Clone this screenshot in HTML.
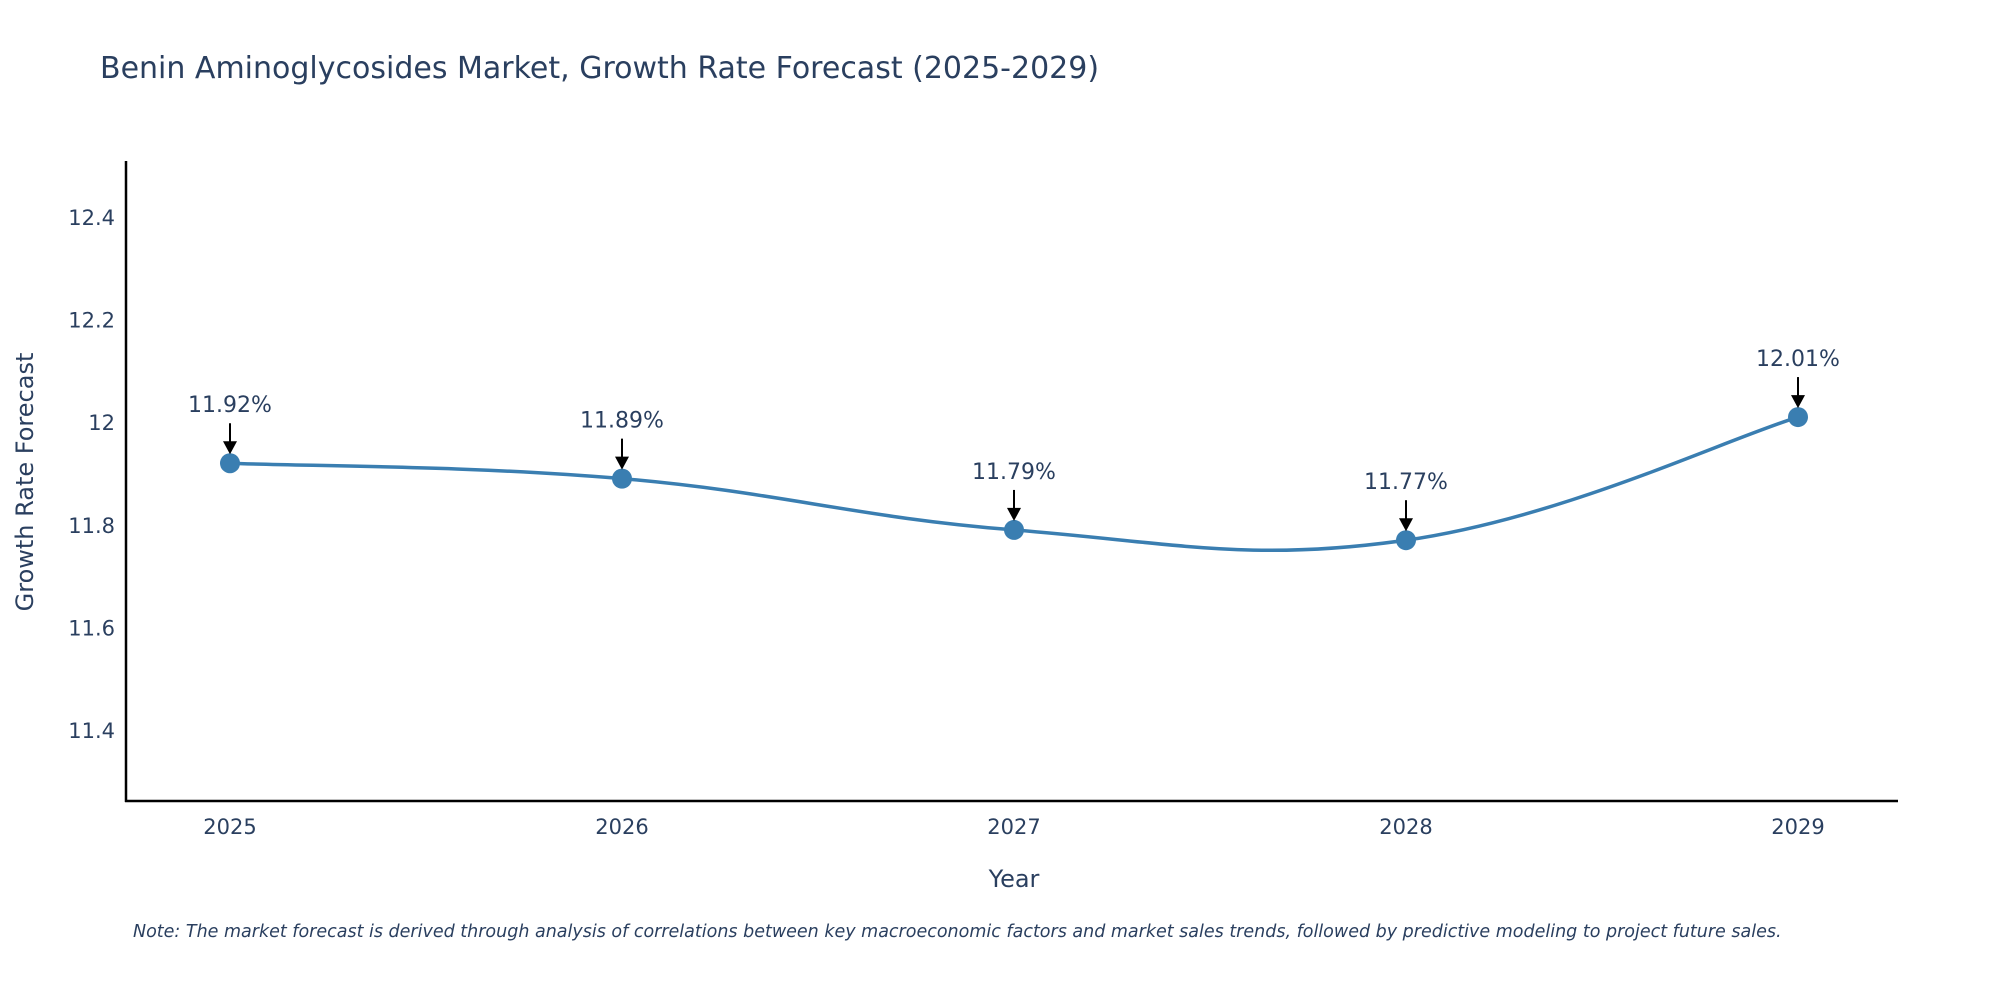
<!DOCTYPE html>
<html><head><meta charset="utf-8"><style>
body{margin:0;background:#fff;}
svg text{font-family:"DejaVu Sans","Liberation Sans",sans-serif;}
</style></head><body>
<svg id="chart" width="2000" height="1000" viewBox="0 0 2000 1000" xmlns="http://www.w3.org/2000/svg">
<rect width="2000" height="1000" fill="#fff"/>
<text x="100" y="78" font-size="30" fill="#2a3f5f">Benin Aminoglycosides Market, Growth Rate Forecast (2025-2029)</text>
<g id="yticks"></g>
<g id="xticks"></g>
<line x1="126" y1="161" x2="126" y2="802" stroke="#000" stroke-width="2.5"/>
<line x1="125" y1="801" x2="1898" y2="801" stroke="#000" stroke-width="2.5"/>
<path id="line" fill="none" stroke="#3a7eb1" stroke-width="3.5"/>
<g id="marks"></g>
<g id="annots"></g>
<text x="1014" y="887" font-size="24" fill="#2a3f5f" text-anchor="middle">Year</text>
<text x="0" y="0" font-size="24" fill="#2a3f5f" text-anchor="middle" transform="translate(33,482) rotate(-90)">Growth Rate Forecast</text>
<text x="133" y="937" font-size="17.5" font-style="italic" fill="#2a3f5f">Note: The market forecast is derived through analysis of correlations between key macroeconomic factors and market sales trends, followed by predictive modeling to project future sales.</text>
</svg>
<script>
const years = [2025, 2026, 2027, 2028, 2029];
const values = [11.92, 11.89, 11.79, 11.77, 12.01];
const labels = ["11.92%", "11.89%", "11.79%", "11.77%", "12.01%"];
const yTicks = [11.4, 11.6, 11.8, 12, 12.2, 12.4];
const yTickLabels = ["11.4", "11.6", "11.8", "12", "12.2", "12.4"];

const NS = "http://www.w3.org/2000/svg";
function xs(yr){ return 230 + (yr - 2025) * (1798 - 230) / 4; }
function ys(v){ return 217 + (12.4 - v) * 513; }
function mk(tag, attrs, parent){ const e = document.createElementNS(NS, tag); for (const k in attrs) e.setAttribute(k, attrs[k]); parent.appendChild(e); return e; }

const yg = document.getElementById('yticks');
yTicks.forEach((t, i) => {
  const e = mk('text', {x: 115, y: ys(t) + 8, 'font-size': 21, fill: '#2a3f5f', 'text-anchor': 'end'}, yg);
  
  
  e.textContent = yTickLabels[i];
});
const xg = document.getElementById('xticks');
years.forEach(yr => {
  const e = mk('text', {x: xs(yr), y: 834, 'font-size': 21, fill: '#2a3f5f', 'text-anchor': 'middle'}, xg);
  
  
  e.textContent = String(yr);
});

const pts = years.map((yr, i) => [xs(yr), ys(values[i])]);
let d = `M${pts[0][0]},${pts[0][1]}`;
const s = 0.2;
for (let i = 0; i < pts.length - 1; i++) {
  const p0 = pts[Math.max(0, i - 1)], p1 = pts[i], p2 = pts[i + 1], p3 = pts[Math.min(pts.length - 1, i + 2)];
  const c1 = [p1[0] + (p2[0] - p0[0]) * s, p1[1] + (p2[1] - p0[1]) * s];
  const c2 = [p2[0] - (p3[0] - p1[0]) * s, p2[1] - (p3[1] - p1[1]) * s];
  d += ` C${c1[0]},${c1[1]} ${c2[0]},${c2[1]} ${p2[0]},${p2[1]}`;
}
document.getElementById('line').setAttribute('d', d);

const mg = document.getElementById('marks');
const ag = document.getElementById('annots');
pts.forEach((p, i) => {
  const c = mk('circle', {cx: p[0], cy: p[1], r: 10, fill: '#3a7eb1'}, mg);
  
  
  const l = mk('line', {x1: p[0], y1: p[1] - 40, x2: p[0], y2: p[1] - 20, stroke: '#000', 'stroke-width': 2}, ag);
  
  
  const h = mk('polygon', {points: `${p[0]-7},${p[1]-22} ${p[0]+7},${p[1]-22} ${p[0]},${p[1]-9}`, fill: '#000'}, ag);
  
  
  const t = mk('text', {x: p[0], y: p[1] - 51, 'font-size': 22, fill: '#2a3f5f', 'text-anchor': 'middle'}, ag);
  
  
  t.textContent = labels[i];
});
</script>
</body></html>
